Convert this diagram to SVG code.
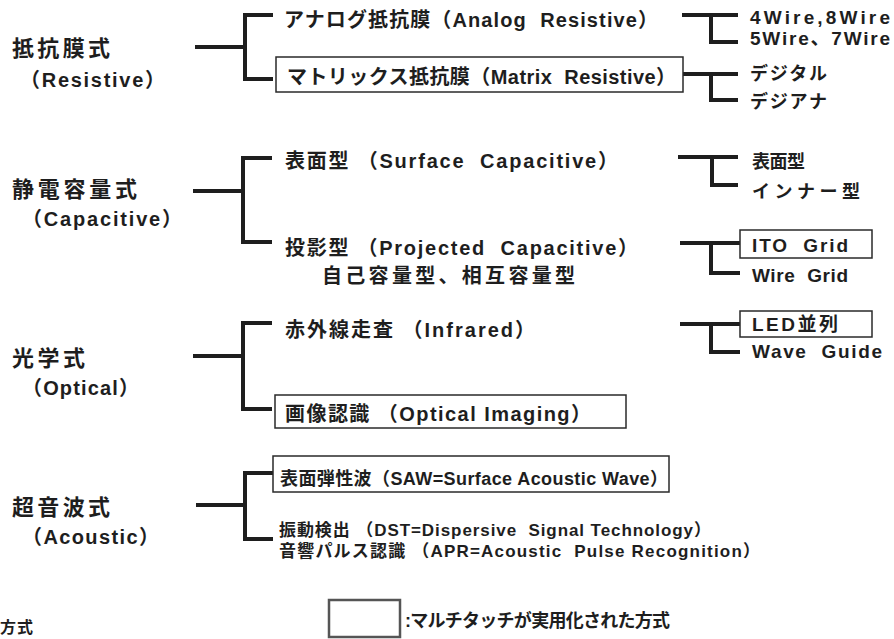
<svg xmlns="http://www.w3.org/2000/svg" width="894" height="639" viewBox="0 0 894 639">
<style>
.t{font-family:"Liberation Sans","Noto Sans CJK JP",sans-serif;font-weight:700;fill:#1e1e1e;white-space:pre}
.big{font-size:22px}
.lat{font-size:20px}
.mid{font-size:20px}
.low{font-size:18px}
.low2{font-size:17px}
.rt{font-size:18px}
.rl{font-size:19px}
.sm{font-size:16px}
.ln{fill:none;stroke:#1e1e1e;stroke-width:4;stroke-linejoin:miter;stroke-linecap:butt}
.box{fill:none;stroke:#2a2a2a;stroke-width:1.5}
.leg{fill:none;stroke:#555;stroke-width:2.5}
</style>
<rect width="894" height="639" fill="#fff"/>
<g id="connectors">
<path class="ln" d="M195,47 H245 M273,15 H245 V79 H273"/>
<path class="ln" d="M682,15 H738 M711,15 V42 H738"/>
<path class="ln" d="M683,74 H738 M711,74 V100 H738"/>
<path class="ln" d="M193,191 H243 M272,158 H243 V242 H272"/>
<path class="ln" d="M678,157 H738 M712,157 V185 H738"/>
<path class="ln" d="M680,243 H740 M711,243 V273 H740"/>
<path class="ln" d="M193,356 H243 M272,323 H243 V409 H272"/>
<path class="ln" d="M680,324 H740 M711,324 V352 H740"/>
<path class="ln" d="M196,505 H245 M273,473 H245 V539 H273"/>
</g>
<g id="resistive">
<text class="t big" x="12" y="56" textLength="98" lengthAdjust="spacing">抵抗膜式</text>
<text class="t lat" x="20" y="87" textLength="145" lengthAdjust="spacing">（Resistive）</text>
</g>
<g id="analog">
<text class="t mid" x="284" y="27" textLength="374" lengthAdjust="spacing">アナログ抵抗膜（Analog  Resistive）</text>
</g>
<g id="matrix">
<rect class="box" x="276" y="57" width="407" height="35"/>
<text class="t mid" x="287" y="84" textLength="389" lengthAdjust="spacing">マトリックス抵抗膜（Matrix  Resistive）</text>
</g>
<g id="wire">
<text class="t rl" x="750" y="24" textLength="140" lengthAdjust="spacing">4Wire,8Wire</text>
<text class="t rl" x="750" y="45" textLength="140" lengthAdjust="spacing">5Wire、7Wire</text>
</g>
<g id="digital">
<text class="t rt" x="750" y="80" textLength="77" lengthAdjust="spacing">デジタル</text>
<text class="t rt" x="750" y="108" textLength="77" lengthAdjust="spacing">デジアナ</text>
</g>
<g id="capacitive">
<text class="t big" x="12" y="197" textLength="125" lengthAdjust="spacing">静電容量式</text>
<text class="t lat" x="22" y="226" textLength="160" lengthAdjust="spacing">（Capacitive）</text>
</g>
<g id="surface">
<text class="t mid" x="285" y="168" textLength="333" lengthAdjust="spacing">表面型 （Surface  Capacitive）</text>
</g>
<g id="projected">
<text class="t mid" x="285" y="255" textLength="353" lengthAdjust="spacing">投影型 （Projected  Capacitive）</text>
<text class="t mid" x="322" y="283" textLength="253" lengthAdjust="spacing">自己容量型、相互容量型</text>
</g>
<g id="surface-types">
<text class="t rt" x="752" y="168" textLength="53" lengthAdjust="spacing">表面型</text>
<text class="t rt" x="752" y="198" textLength="108" lengthAdjust="spacing">インナー型</text>
</g>
<g id="ito">
<rect class="box" x="740" y="230" width="132" height="28"/>
<text class="t rl" x="752" y="252" textLength="96" lengthAdjust="spacing">ITO  Grid</text>
</g>
<g id="wiregrid">
<text class="t rl" x="752" y="282" textLength="96" lengthAdjust="spacing">Wire  Grid</text>
</g>
<g id="optical">
<text class="t big" x="12" y="366" textLength="73" lengthAdjust="spacing">光学式</text>
<text class="t lat" x="22" y="395" textLength="117" lengthAdjust="spacing">（Optical）</text>
</g>
<g id="infrared">
<text class="t mid" x="285" y="337" textLength="250" lengthAdjust="spacing">赤外線走査 （Infrared）</text>
</g>
<g id="led">
<rect class="box" x="740" y="311" width="132" height="26"/>
<text class="t rl" x="752" y="331" textLength="86" lengthAdjust="spacing">LED並列</text>
</g>
<g id="waveguide">
<text class="t rl" x="752" y="358" textLength="130" lengthAdjust="spacing">Wave  Guide</text>
</g>
<g id="imaging">
<rect class="box" x="275" y="395" width="351" height="33"/>
<text class="t mid" x="285" y="421" textLength="306" lengthAdjust="spacing">画像認識 （Optical Imaging）</text>
</g>
<g id="acoustic">
<text class="t big" x="12" y="515" textLength="98" lengthAdjust="spacing">超音波式</text>
<text class="t lat" x="22" y="544" textLength="137" lengthAdjust="spacing">（Acoustic）</text>
</g>
<g id="saw">
<rect class="box" x="273" y="456" width="396" height="36"/>
<text class="t low" x="280" y="485" textLength="388" lengthAdjust="spacing">表面弾性波（SAW=Surface Acoustic Wave）</text>
</g>
<g id="dst">
<text class="t low2" x="279" y="536" textLength="432" lengthAdjust="spacing">振動検出 （DST=Dispersive  Signal Technology）</text>
<text class="t low2" x="279" y="557" textLength="481" lengthAdjust="spacing">音響パルス認識 （APR=Acoustic  Pulse Recognition）</text>
</g>
<g id="legend">
<rect class="leg" x="329" y="600" width="71" height="37"/>
<text class="t rt" x="405" y="627" textLength="265" lengthAdjust="spacing">:マルチタッチが実用化された方式</text>
</g>
<g id="cut-text">
<text class="t sm" x="0" y="633" textLength="33" lengthAdjust="spacing">方式</text>
</g>
</svg>
